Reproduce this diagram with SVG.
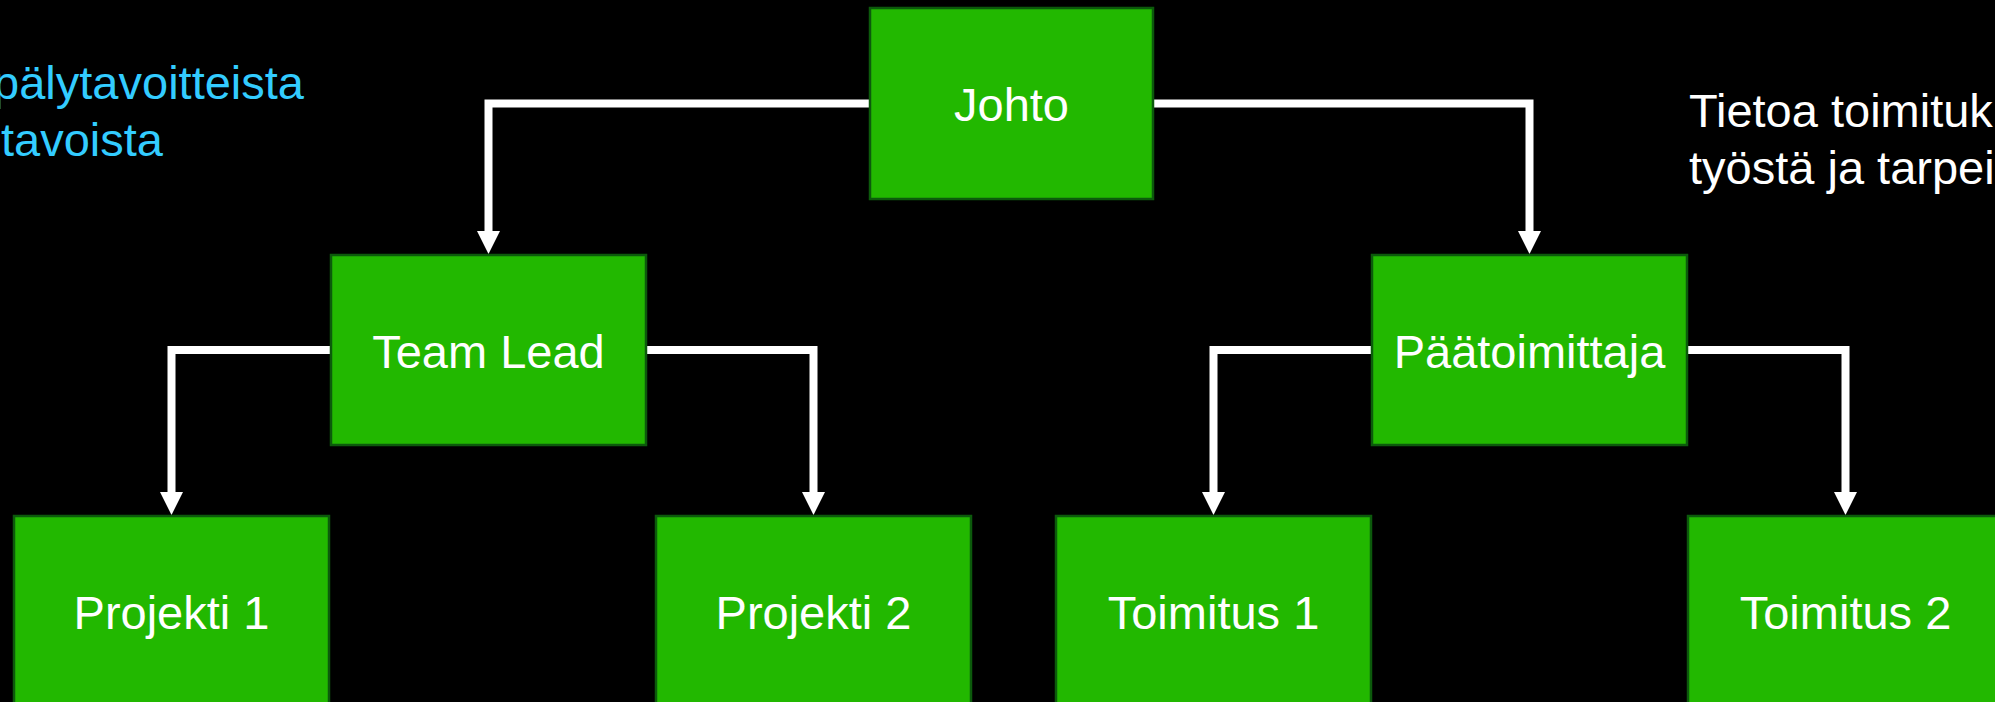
<svg xmlns="http://www.w3.org/2000/svg" width="1995" height="702" viewBox="0 0 1995 702">
<style>
.box{fill:#22b800;stroke:#0c5a0c;stroke-width:2.5}
.lbl{font-family:"Liberation Sans",Arial,sans-serif;font-size:47px;fill:#ffffff;text-anchor:middle}
.note{font-family:"Liberation Sans",Arial,sans-serif;font-size:47px}
.con{fill:none;stroke:#ffffff;stroke-width:8;stroke-linejoin:miter;marker-end:url(#arr)}
</style>
<defs>
<marker id="arr" viewBox="0 0 23 23" markerWidth="23" markerHeight="23" markerUnits="userSpaceOnUse" orient="auto" refX="0" refY="11.5">
<path d="M0,0 L23,11.5 L0,23 Z" fill="#ffffff"/>
</marker>
</defs>
<rect width="1995" height="702" fill="#000000"/>
<g id="notes">
<text class="note" fill="#33ccff" text-anchor="end" x="304" y="99">pälytavoitteista</text>
<text class="note" fill="#33ccff" text-anchor="end" x="163" y="156">tavoista</text>
<text class="note" fill="#ffffff" x="1689" y="127">Tietoa toimituk</text>
<text class="note" fill="#ffffff" x="1689" y="184">työstä ja tarpei</text>
</g>
<g id="connectors">
<path class="con" d="M870,103.5 H488.5 V231"/>
<path class="con" d="M1153,103.5 H1529.5 V231"/>
<path class="con" d="M331,350 H171.5 V492"/>
<path class="con" d="M646,350 H813.5 V492"/>
<path class="con" d="M1372,350 H1213.5 V492"/>
<path class="con" d="M1687,350 H1845.5 V492"/>
</g>
<g id="johto"><rect class="box" x="870" y="8" width="283" height="191"/><text class="lbl" x="1011.5" y="121">Johto</text></g>
<g id="teamlead"><rect class="box" x="331" y="255" width="315" height="190"/><text class="lbl" x="488.5" y="368">Team Lead</text></g>
<g id="paatoimittaja"><rect class="box" x="1372" y="255" width="315" height="190"/><text class="lbl" x="1529.5" y="368">Päätoimittaja</text></g>
<g id="projekti1"><rect class="box" x="14" y="516" width="315" height="190"/><text class="lbl" x="171.5" y="629">Projekti 1</text></g>
<g id="projekti2"><rect class="box" x="656" y="516" width="315" height="190"/><text class="lbl" x="813.5" y="629">Projekti 2</text></g>
<g id="toimitus1"><rect class="box" x="1056" y="516" width="315" height="190"/><text class="lbl" x="1213.5" y="629">Toimitus 1</text></g>
<g id="toimitus2"><rect class="box" x="1688" y="516" width="315" height="190"/><text class="lbl" x="1845.5" y="629">Toimitus 2</text></g>
</svg>
